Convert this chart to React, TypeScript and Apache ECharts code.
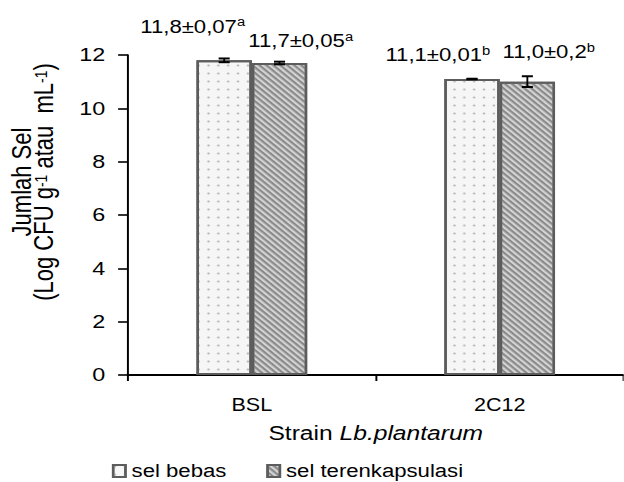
import React, { useEffect, useRef } from "react";
import * as echarts from "echarts";

// ---- data ----
const categories = ["BSL", "2C12"];
const seriesNames = ["sel bebas", "sel terenkapsulasi"];
const selBebas = [11.8, 11.1];
const selTerenkapsulasi = [11.7, 11.0];
const errBebas = [0.07, 0.01];
const errTerenkapsulasi = [0.05, 0.2];
const letterBebas = ["a", "b"];
const letterTerenkapsulasi = ["a", "b"];
const yTicks = { min: 0, max: 12, interval: 2 };

// ---- layout / style (not data) ----
const S = 1.23; // horizontal stretch of the reference
const W = 624 / S;
const H = 482;
const FONT = "'Liberation Sans', Arial, sans-serif";
const BAR_W = 45;
const labelOffsetsBebas = [[-25.6, -19], [-27.8, -9]];
const labelOffsetsTer = [[17.2, -7.5], [17.4, -15]];

const fmt = (v: number, d?: number) =>
  (d === undefined ? String(v) : v.toFixed(d)).replace(".", ",");

function makeData(vals: number[], errs: number[], letters: string[], offs: number[][]) {
  return vals.map((v, i) => ({
    value: v,
    err: errs[i],
    letter: letters[i],
    label: { offset: offs[i] },
  }));
}

const labelCfg = {
  show: true,
  position: "top",
  distance: 5,
  formatter: (p: any) =>
    `{v|${fmt(p.data.value, 1)}±${fmt(p.data.err)}}{s|${p.data.letter}}`,
  rich: {
    v: { fontSize: 18, fontFamily: FONT, color: "#000", lineHeight: 20 },
    s: { fontSize: 12, fontFamily: FONT, color: "#000", verticalAlign: "top", lineHeight: 12 },
  },
};

const errData = [
  ...selBebas.map((v, i) => [i, v, errBebas[i], 0]),
  ...selTerenkapsulasi.map((v, i) => [i, v, errTerenkapsulasi[i], 1]),
];

const option: any = {
  animation: false,
  backgroundColor: "#fff",
  grid: { left: 104, right: -2, top: 55, bottom: 107 },
  legend: {
    data: seriesNames,
    left: 91,
    top: 462,
    padding: 0,
    itemWidth: 10,
    itemHeight: 12,
    itemGap: 32.5,
    icon: "rect",
    textStyle: { fontSize: 18, fontFamily: FONT, color: "#000" },
  },
  xAxis: {
    type: "category",
    data: categories,
    boundaryGap: true,
    axisLine: { show: true, lineStyle: { color: "#000", width: 2 } },
    axisTick: { show: true, length: 6, alignWithLabel: false, lineStyle: { color: "#000", width: 1.6 } },
    axisLabel: { fontSize: 17.5, fontFamily: FONT, color: "#000", margin: 21 },
    name: "{n|Strain }{i|Lb.plantarum}",
    nameLocation: "middle",
    nameGap: 48,
    nameTextStyle: {
      rich: {
        n: { fontSize: 20, fontFamily: FONT, color: "#000" },
        i: { fontSize: 20, fontFamily: FONT, color: "#000", fontStyle: "italic" },
      },
    },
  },
  yAxis: {
    type: "value",
    min: yTicks.min,
    max: yTicks.max,
    interval: yTicks.interval,
    splitLine: { show: false },
    axisLine: { show: true, lineStyle: { color: "#000", width: 1.6 } },
    axisTick: { show: true, length: 8, lineStyle: { color: "#000", width: 1.6 } },
    axisLabel: { fontSize: 19, fontFamily: FONT, color: "#000", margin: 18.5 },
  },
  graphic: [
    {
      type: "text",
      x: 26.5,
      y: 182,
      rotation: Math.PI / 2,
      style: {
        text: "{a|Jumlah Sel}\n{a|(Log CFU g}{s|-1}{a| atau  mL}{s|-1}{a|)}",
        align: "center",
        verticalAlign: "middle",
        textAlign: "center",
        textVerticalAlign: "middle",
        rich: {
          a: { fontSize: 22, fontFamily: FONT, fill: "#000", color: "#000", lineHeight: 18.5 },
          s: { fontSize: 14, fontFamily: FONT, fill: "#000", color: "#000", verticalAlign: "top", lineHeight: 18.5 },
        },
      },
    },
  ],
  series: [
    {
      name: seriesNames[0],
      type: "bar",
      barWidth: BAR_W,
      barGap: "0%",
      data: makeData(selBebas, errBebas, letterBebas, labelOffsetsBebas),
      itemStyle: {
        color: "#f6f6f6",
        borderColor: "#5c5c5c",
        borderWidth: 2,
        decal: {
          symbol: "circle",
          symbolSize: 0.7,
          dashArrayX: [3, 5],
          dashArrayY: [3, 5],
          color: "#b8b8b8",
        },
      },
      label: labelCfg,
    },
    {
      name: seriesNames[1],
      type: "bar",
      barWidth: BAR_W,
      barGap: "0%",
      data: makeData(selTerenkapsulasi, errTerenkapsulasi, letterTerenkapsulasi, labelOffsetsTer),
      itemStyle: {
        color: "#d4d4d4",
        borderColor: "#5c5c5c",
        borderWidth: 2,
        decal: {
          symbol: "rect",
          symbolSize: 1,
          dashArrayX: [1, 0],
          dashArrayY: [2, 2],
          rotation: Math.PI / 4,
          color: "#8a8a8a",
        },
      },
      label: labelCfg,
    },
    {
      name: "err",
      type: "custom",
      data: errData,
      encode: { x: 0, y: 1 },
      z: 10,
      silent: true,
      renderItem: (params: any, api: any) => {
        const cat = api.value(0);
        const val = api.value(1);
        const err = api.value(2);
        const sIdx = api.value(3);
        const c = api.coord([cat, val]);
        const x = c[0] + (sIdx === 0 ? -BAR_W / 2 : BAR_W / 2);
        const top = api.coord([cat, val + err])[1];
        const bot = api.coord([cat, val - err])[1];
        const cap = 4.5;
        const st = { stroke: "#000", lineWidth: 2 };
        return {
          type: "group",
          children: [
            { type: "line", shape: { x1: x, y1: top, x2: x, y2: bot }, style: { stroke: "#000", lineWidth: 1.5 } },
            { type: "line", shape: { x1: x - cap, y1: top, x2: x + cap, y2: top }, style: st },
            { type: "line", shape: { x1: x - cap, y1: bot, x2: x + cap, y2: bot }, style: st },
          ],
        };
      },
    },
  ],
};

export default function App() {
  const ref = useRef<HTMLDivElement>(null);
  useEffect(() => {
    const chart = echarts.init(ref.current as HTMLDivElement, null, { renderer: "svg" });
    chart.setOption(option);
    return () => chart.dispose();
  }, []);
  return (
    <div
      ref={ref}
      style={{
        position: "absolute",
        left: 0,
        top: 0,
        width: W,
        height: H,
        transform: `scaleX(${S})`,
        transformOrigin: "0 0",
        background: "#fff",
      }}
    />
  );
}
